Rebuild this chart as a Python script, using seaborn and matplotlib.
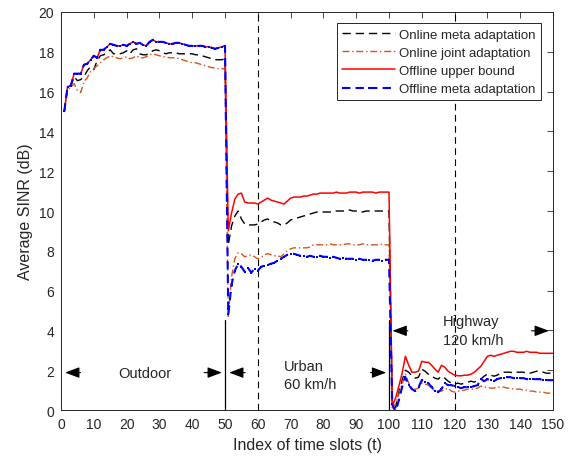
import numpy as np
import pandas as pd
import seaborn as sns
import matplotlib
matplotlib.use("Agg")
import matplotlib.pyplot as plt

# time slot index
t = np.arange(1, 151)

# Offline upper bound (red) -- outdoor part coincides with offline meta
upper_outdoor = [15.0, 16.25, 16.3, 16.9, 16.9, 16.9, 17.35, 17.4, 17.6, 17.8,
                 17.7, 18.1, 18.1, 18.25, 18.4, 18.35, 18.3, 18.3, 18.35, 18.3,
                 18.4, 18.5, 18.4, 18.45, 18.35, 18.3, 18.5, 18.6, 18.5, 18.5,
                 18.5, 18.45, 18.4, 18.4, 18.45, 18.45, 18.4, 18.35, 18.3, 18.3,
                 18.3, 18.3, 18.3, 18.25, 18.25, 18.2, 18.15, 18.2, 18.25, 18.3]
upper_urban = [9.0, 9.9, 10.6, 10.85, 10.9, 10.45, 10.4, 10.4, 10.4, 10.35,
               10.45, 10.55, 10.65, 10.55, 10.5, 10.45, 10.4, 10.35, 10.5, 10.65,
               10.7, 10.7, 10.7, 10.75, 10.75, 10.8, 10.85, 10.85, 10.9, 10.9,
               10.9, 10.9, 10.9, 10.95, 10.9, 10.9, 10.9, 10.95, 10.95, 10.95,
               10.9, 10.95, 10.95, 10.95, 10.95, 10.9, 10.95, 10.95, 10.95, 10.95]
upper_highway = [0.2, 0.6, 1.2, 1.85, 2.7, 2.25, 1.9, 1.9, 1.95, 2.45,
                 2.4, 2.4, 2.25, 2.05, 1.9, 2.25, 2.15, 1.95, 1.85, 1.75,
                 1.72, 1.72, 1.75, 1.75, 1.8, 1.9, 2.05, 2.2, 2.45, 2.7,
                 2.75, 2.7, 2.75, 2.8, 2.85, 2.9, 2.95, 2.95, 2.9, 2.9,
                 2.9, 2.95, 2.9, 2.9, 2.9, 2.85, 2.85, 2.85, 2.85, 2.85]

# Online meta adaptation (black dashed)
meta_outdoor = [15.0, 16.2, 16.3, 16.75, 16.55, 16.6, 16.75, 17.05, 17.25, 17.1,
                17.55, 17.8, 17.85, 17.95, 18.1, 17.9, 17.9, 17.9, 17.95, 18.05,
                17.9, 18.1, 18.15, 17.9, 17.85, 17.85, 17.95, 18.05, 18.1, 18.05,
                17.95, 17.9, 17.95, 17.95, 17.95, 17.9, 17.9, 17.9, 17.9, 17.9,
                17.85, 17.85, 17.8, 17.75, 17.7, 17.65, 17.6, 17.6, 17.6, 17.65]
meta_urban = [8.3, 9.25, 9.75, 10.0, 9.6, 9.35, 9.3, 9.3, 9.3, 9.35,
              9.45, 9.55, 9.6, 9.5, 9.45, 9.4, 9.3, 9.3, 9.4, 9.55,
              9.6, 9.65, 9.7, 9.75, 9.8, 9.85, 9.9, 9.95, 9.95, 9.95,
              9.95, 9.95, 10.0, 10.0, 10.0, 10.0, 10.0, 10.05, 10.0, 10.0,
              9.95, 9.95, 10.0, 10.0, 10.0, 10.0, 10.0, 10.0, 10.0, 10.0]
meta_highway = [0.3, 0.1, 0.9, 1.5, 2.0, 1.9, 1.7, 1.6, 1.65, 2.05,
                1.95, 1.8, 1.7, 1.6, 1.55, 1.7, 1.6, 1.45, 1.35, 1.3,
                1.35, 1.3, 1.35, 1.4, 1.45, 1.4, 1.5, 1.55, 1.7, 1.8,
                1.75, 1.7, 1.75, 1.85, 1.9, 1.9, 1.9, 1.85, 1.9, 1.9,
                1.9, 1.85, 1.85, 1.9, 1.95, 1.95, 1.9, 1.85, 1.85, 1.85]

# Online joint adaptation (orange dash-dot)
joint_outdoor = [15.0, 16.1, 16.2, 16.4, 16.05, 15.95, 16.5, 16.7, 17.0, 17.15,
                 17.3, 17.45, 17.6, 17.7, 17.8, 17.75, 17.7, 17.65, 17.7, 17.75,
                 17.65, 17.7, 17.8, 17.7, 17.7, 17.75, 17.85, 17.9, 17.85, 17.8,
                 17.75, 17.75, 17.7, 17.7, 17.7, 17.65, 17.6, 17.55, 17.5, 17.45,
                 17.45, 17.4, 17.35, 17.3, 17.25, 17.2, 17.2, 17.15, 17.15, 17.15]
joint_urban = [4.7, 6.7, 7.6, 7.9, 7.85, 7.7, 7.75, 7.8, 7.7, 7.6,
               7.65, 7.8, 7.85, 7.8, 7.75, 7.75, 7.7, 7.85, 8.0, 8.1,
               8.15, 8.15, 8.15, 8.15, 8.15, 8.2, 8.3, 8.3, 8.3, 8.3,
               8.3, 8.35, 8.3, 8.3, 8.3, 8.3, 8.35, 8.35, 8.3, 8.3,
               8.3, 8.35, 8.3, 8.3, 8.3, 8.3, 8.3, 8.35, 8.3, 8.3]
joint_highway = [0.1, 0.3, 0.8, 1.3, 1.8, 1.35, 1.1, 1.05, 1.1, 1.35,
                 1.3, 1.25, 1.1, 0.95, 0.95, 0.95, 1.05, 1.1, 0.95, 0.9,
                 0.95, 0.95, 1.0, 1.05, 1.05, 1.05, 1.1, 1.2, 1.15, 1.15,
                 1.1, 1.1, 1.15, 1.15, 1.15, 1.1, 1.1, 1.05, 1.05, 1.05,
                 1.0, 1.0, 0.95, 0.95, 0.9, 0.9, 0.9, 0.85, 0.85, 0.8]

# Offline meta adaptation (blue dashed with dots)
offline_outdoor = list(upper_outdoor)
offline_urban = [4.8, 6.3, 7.0, 7.35, 7.2, 6.95, 7.15, 6.9, 7.1, 7.0,
                 7.2, 7.25, 7.3, 7.35, 7.4, 7.5, 7.6, 7.7, 7.8, 7.85,
                 7.85, 7.8, 7.75, 7.75, 7.7, 7.75, 7.7, 7.7, 7.75, 7.7,
                 7.7, 7.65, 7.7, 7.65, 7.6, 7.65, 7.6, 7.6, 7.6, 7.55,
                 7.6, 7.55, 7.55, 7.55, 7.5, 7.55, 7.55, 7.5, 7.55, 7.55]
offline_highway = [0.3, -0.1, 0.5, 1.15, 1.65, 1.25, 1.05, 0.95, 1.15, 1.5,
                   1.4, 1.35, 1.15, 0.95, 0.9, 1.05, 1.35, 1.25, 1.25, 1.2,
                   1.15, 1.1, 1.15, 1.15, 1.15, 1.2, 1.25, 1.55, 1.45, 1.55,
                   1.5, 1.45, 1.55, 1.6, 1.6, 1.65, 1.65, 1.6, 1.6, 1.6,
                   1.6, 1.55, 1.55, 1.55, 1.55, 1.55, 1.5, 1.5, 1.5, 1.5]

upper = upper_outdoor + upper_urban + upper_highway
meta = meta_outdoor + meta_urban + meta_highway
joint = joint_outdoor + joint_urban + joint_highway
offline = offline_outdoor + offline_urban + offline_highway

sns.set_style("white")
plt.rcParams["font.family"] = ["Liberation Sans", "DejaVu Sans"]

fig = plt.figure(figsize=(5.7, 4.64), dpi=100)
ax = fig.add_axes([0.107, 0.1142, 0.8632, 0.8578])

# scenario boundaries
ax.plot([50, 50], [0, 4.5], color="black", lw=0.9, zorder=1)
ax.plot([100, 100], [0, 4.5], color="black", lw=0.9, zorder=1)
ax.axvline(60, color="black", lw=0.8, linestyle=(0, (6, 4)), zorder=1)
ax.axvline(120, color="black", lw=0.8, linestyle=(0, (6, 4)), zorder=1)

sns.lineplot(x=t, y=meta, ax=ax, color="black", lw=1.0,
             linestyle=(0, (6, 3.5)), label="Online meta adaptation")
sns.lineplot(x=t, y=joint, ax=ax, color="#D95319", lw=1.0,
             linestyle=(0, (5, 2, 1, 2)), label="Online joint adaptation")
sns.lineplot(x=t, y=upper, ax=ax, color="red", lw=1.1,
             label="Offline upper bound")
sns.lineplot(x=t, y=offline, ax=ax, color="blue", lw=1.5,
             linestyle=(0, (4, 2.5)), marker="s", markersize=1.8,
             markeredgewidth=0, label="Offline meta adaptation")

# region annotations
arrow = dict(arrowstyle="-|>,head_length=0.8,head_width=0.3",
             color="black", lw=0.8, mutation_scale=11)
for tail, tip, y in [(6.8, 0.4, 1.88), (42.8, 49.9, 1.88),
                     (57.0, 50.4, 1.88), (93.5, 100.0, 1.88),
                     (106.6, 100.2, 3.98), (142.6, 149.6, 3.98)]:
    ax.annotate("", xy=(tip, y), xytext=(tail, y), arrowprops=arrow)

ax.text(25.6, 1.88, "Outdoor", ha="center", va="center", fontsize=10.5)
ax.text(68.1, 1.76, "Urban\n60 km/h", ha="left", va="center",
        fontsize=10.5, linespacing=1.45)
ax.text(116.5, 4.01, "Highway\n120 km/h", ha="left", va="center",
        fontsize=10.5, linespacing=1.45)

ax.set_xlim(0, 150)
ax.set_ylim(0, 20)
ax.set_xticks(np.arange(0, 151, 10))
ax.set_yticks(np.arange(0, 21, 2))
ax.tick_params(direction="in", top=True, right=True, length=4, width=0.6,
               labelsize=10, colors="#262626", pad=5)
for s in ax.spines.values():
    s.set_color("#262626")
    s.set_linewidth(0.7)
ax.set_xlabel("Index of time slots (t)", fontsize=11.5, color="#262626")
ax.set_ylabel("Average SINR (dB)", fontsize=11.5, color="#262626")

leg = ax.legend(loc="upper right", bbox_to_anchor=(0.9756, 0.972),
                borderaxespad=0, fontsize=9.5, frameon=True, fancybox=False,
                framealpha=1, edgecolor="#262626", handlelength=4.0,
                labelspacing=0.45, borderpad=0.4, handletextpad=0.3)
leg.get_frame().set_linewidth(0.7)

fig.savefig("out.png", dpi=100)
